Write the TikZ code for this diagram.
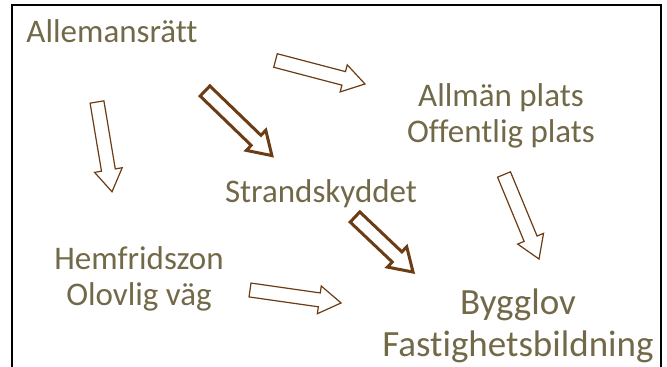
\documentclass[tikz,border=0pt]{standalone}
\usepackage{fontspec}
\setmainfont{Carlito}[Ligatures=NoCommon]
\definecolor{olivetext}{RGB}{114,105,72}
\definecolor{arrowbrown}{RGB}{108,60,20}

% block arrow: [style]{tail}{angle}{length}
\newcommand{\blockarrow}[4][thinarrow]{%
  \draw[#1, shift={#2}, rotate=#3] (0,-7) -- ({#4-22},-7) -- ({#4-22},-14) -- (#4,0)
    -- ({#4-22},14) -- ({#4-22},7) -- (0,7) -- cycle;}

\begin{document}
\begin{tikzpicture}[x=0.75pt,y=-0.75pt,
    lbl/.style={text=olivetext, inner sep=0pt, align=center,
      font=\fontsize{24.75}{27}\selectfont},
    biglbl/.style={text=olivetext, inner sep=0pt, align=center,
      font=\fontsize{27.75}{31.5}\selectfont},
    thinarrow/.style={draw=arrowbrown, fill=white, line width=0.9pt, line join=miter},
    thickarrow/.style={draw=arrowbrown, fill=white, line width=2.25pt, line join=miter}]
        \useasboundingbox (0,0) rectangle (667,367);

        % frame, open at the bottom
        \draw[line width=1.5pt] (12,375) -- (12,5) -- (661,5) -- (661,375);

        % labels
        \node[lbl, anchor=base] (allem) at (112,43) {Allemansrätt};
        \node[lbl] (allman) at (501,116) {Allmän plats\\Offentlig plats};
        \node[lbl, anchor=base] (strand) at (321,202) {Strandskyddet};
        \node[lbl] (hemfrid) at (139,279) {Hemfridszon\\Olovlig väg};
        \node[biglbl] (bygglov) at (518,326) {Bygglov\\Fastighetsbildning};

        % arrows
        \blockarrow{(275.5,60.5)}{-14.7}{92.5}
        \blockarrow[thickarrow]{(205,91)}{-44}{93}
        \blockarrow{(97,102)}{-80.5}{91}
        \blockarrow{(504,174.5)}{-67.5}{91.5}
        \blockarrow[thickarrow]{(355,217)}{-43.5}{80}
        \blockarrow{(250,290)}{-8.1}{92}
    \end{tikzpicture}
\end{document}
